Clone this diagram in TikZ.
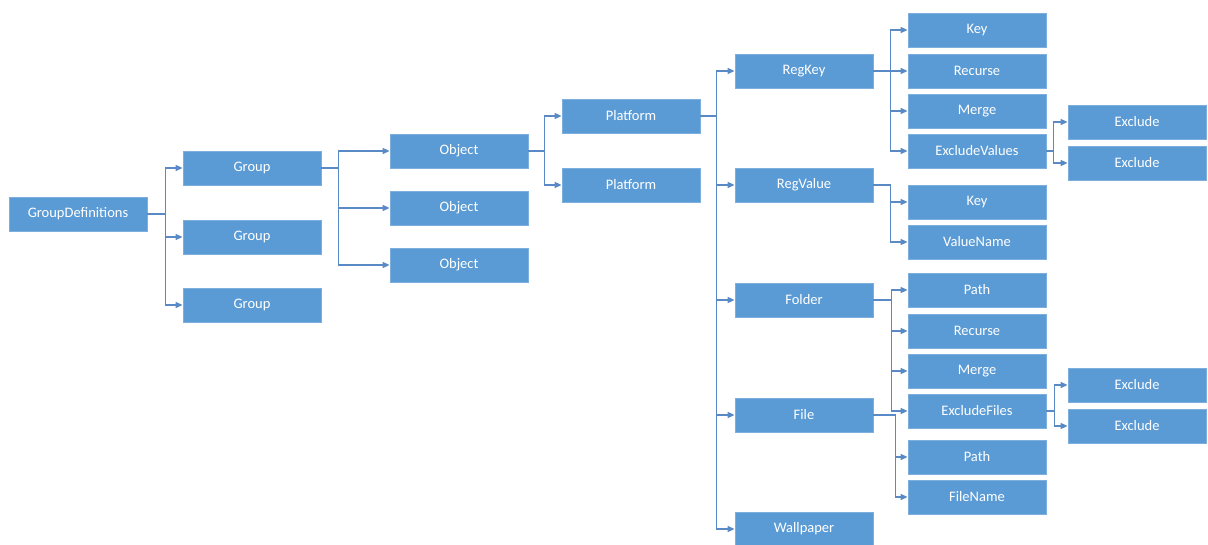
\documentclass[tikz,border=0pt]{standalone}
\usepackage{fontspec}
\setmainfont{Carlito}
\usetikzlibrary{arrows.meta}
\definecolor{boxblue}{HTML}{5B9BD5}
\definecolor{lineblue}{HTML}{5A8AC6}
\begin{document}
\begin{tikzpicture}[x=1pt, y=-1pt,
  tbox/.style={rectangle, fill=boxblue, draw=boxblue!80!white, line width=0.8pt, minimum width=138pt, minimum height=34pt, inner sep=0pt, text=white, font=\fontsize{14.5}{17}\selectfont},
  conn/.style={draw=lineblue, line width=1.5pt, -{Triangle[length=7pt,width=6pt]}}]
\useasboundingbox (0,0) rectangle (1208,545);
\node[tbox] (nid0) at (78,214){GroupDefinitions};
\node[tbox] (nid1) at (252,168){Group};
\node[tbox] (nid4) at (459,151){Object};
\node[tbox] (nid7) at (631,116){Platform};
\node[tbox] (nid9) at (804,71){RegKey};
\node[tbox] (nid14) at (977,30){Key};
\node[tbox] (nid15) at (977,71){Recurse};
\node[tbox] (nid16) at (977,111){Merge};
\node[tbox] (nid17) at (977,151){ExcludeValues};
\node[tbox] (nid18) at (1137,122){Exclude};
\node[tbox] (nid19) at (1137,163){Exclude};
\draw[conn](nid17.east) -- ++(7,0) |- (nid18.west);
\draw[conn](nid17.east) -- ++(7,0) |- (nid19.west);
\draw[conn](nid9.east) -- ++(17,0) |- (nid14.west);
\draw[conn](nid9.east) -- ++(17,0) |- (nid15.west);
\draw[conn](nid9.east) -- ++(17,0) |- (nid16.west);
\draw[conn](nid9.east) -- ++(17,0) |- (nid17.west);
\node[tbox] (nid10) at (804,185){RegValue};
\node[tbox] (nid20) at (977,202){Key};
\node[tbox] (nid21) at (977,242){ValueName};
\draw[conn](nid10.east) -- ++(17,0) |- (nid20.west);
\draw[conn](nid10.east) -- ++(17,0) |- (nid21.west);
\node[tbox] (nid11) at (804,300){Folder};
\node[tbox] (nid22) at (977,290){Path};
\node[tbox] (nid23) at (977,331){Recurse};
\node[tbox] (nid24) at (977,371){Merge};
\node[tbox] (nid25) at (977,411){ExcludeFiles};
\node[tbox] (nid26) at (1137,385){Exclude};
\node[tbox] (nid27) at (1137,426){Exclude};
\draw[conn](nid25.east) -- ++(8,0) |- (nid26.west);
\draw[conn](nid25.east) -- ++(8,0) |- (nid27.west);
\draw[conn](nid11.east) -- ++(18,0) |- (nid22.west);
\draw[conn](nid11.east) -- ++(18,0) |- (nid23.west);
\draw[conn](nid11.east) -- ++(18,0) |- (nid24.west);
\draw[conn](nid11.east) -- ++(18,0) |- (nid25.west);
\node[tbox] (nid12) at (804,415){File};
\node[tbox] (nid28) at (977,457){Path};
\node[tbox] (nid29) at (977,497){FileName};
\draw[conn](nid12.east) -- ++(22,0) |- (nid28.west);
\draw[conn](nid12.east) -- ++(22,0) |- (nid29.west);
\node[tbox] (nid13) at (804,529){Wallpaper};
\draw[conn](nid7.east) -- ++(16,0) |- (nid9.west);
\draw[conn](nid7.east) -- ++(16,0) |- (nid10.west);
\draw[conn](nid7.east) -- ++(16,0) |- (nid11.west);
\draw[conn](nid7.east) -- ++(16,0) |- (nid12.west);
\draw[conn](nid7.east) -- ++(16,0) |- (nid13.west);
\node[tbox] (nid8) at (631,185){Platform};
\draw[conn](nid4.east) -- ++(16,0) |- (nid7.west);
\draw[conn](nid4.east) -- ++(16,0) |- (nid8.west);
\node[tbox] (nid5) at (459,208){Object};
\node[tbox] (nid6) at (459,265){Object};
\draw[conn](nid1.east) -- ++(17,0) |- (nid4.west);
\draw[conn](nid1.east) -- ++(17,0) |- (nid5.west);
\draw[conn](nid1.east) -- ++(17,0) |- (nid6.west);
\node[tbox] (nid2) at (252,237){Group};
\node[tbox] (nid3) at (252,305){Group};
\draw[conn](nid0.east) -- ++(18,0) |- (nid1.west);
\draw[conn](nid0.east) -- ++(18,0) |- (nid2.west);
\draw[conn](nid0.east) -- ++(18,0) |- (nid3.west);
\end{tikzpicture}
\end{document}
